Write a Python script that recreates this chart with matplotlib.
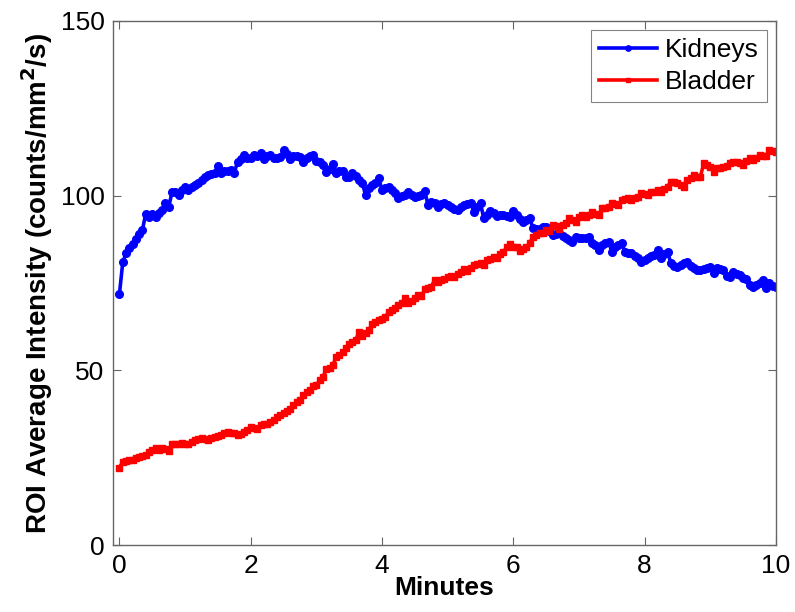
import numpy as np
import matplotlib
matplotlib.use("Agg")
import matplotlib.pyplot as plt

# time axis in minutes (one frame every 3 s)
minutes = np.arange(201) * 0.05

# ROI average intensity (counts/mm^2/s)
kidneys = [
    71.9, 80.9, 83.5, 84.9, 86.2, 87.5, 89.0, 90.2, 94.8, 93.8,
    94.8, 94.0, 95.0, 95.9, 97.8, 96.8, 100.9, 101.1, 100.2, 101.5,
    102.6, 101.6, 102.4, 103.0, 103.7, 104.5, 105.3, 105.9, 106.2, 106.4,
    108.5, 106.6, 107.0, 107.1, 107.4, 106.6, 109.7, 110.5, 111.6, 110.7,
    110.8, 111.6, 111.2, 112.3, 110.4, 111.2, 111.6, 110.8, 110.9, 111.0,
    113.1, 112.0, 110.4, 111.4, 111.4, 111.0, 109.7, 110.7, 111.2, 111.6,
    110.0, 109.5, 108.8, 106.9, 107.5, 109.1, 106.4, 107.0, 107.1, 105.3,
    105.4, 106.4, 105.5, 104.5, 103.5, 100.2, 102.1, 103.0, 103.5, 105.0,
    101.6, 102.1, 102.6, 101.5, 100.7, 99.2, 99.8, 100.2, 101.1, 100.2,
    99.7, 100.0, 100.2, 101.4, 97.3, 98.3, 97.8, 96.8, 97.5, 98.0,
    97.4, 96.8, 96.2, 95.9, 96.8, 97.3, 97.6, 97.8, 95.4, 96.8,
    97.8, 93.5, 94.6, 95.6, 94.9, 94.2, 94.4, 94.5, 94.1, 93.8,
    95.6, 94.5, 93.2, 92.6, 92.9, 93.5, 90.7, 90.6, 90.4, 90.9,
    91.1, 89.8, 88.7, 89.0, 89.4, 88.5, 87.8, 87.3, 86.8, 88.2,
    88.0, 87.8, 88.0, 88.2, 86.5, 85.9, 84.4, 85.9, 86.5, 86.8,
    84.0, 85.4, 86.0, 86.4, 84.0, 83.7, 83.5, 82.8, 82.1, 81.1,
    81.6, 82.1, 82.6, 83.0, 84.4, 82.1, 83.2, 84.0, 80.6, 80.0,
    79.7, 80.2, 80.6, 81.1, 80.0, 79.2, 78.7, 78.8, 78.9, 79.3,
    79.7, 77.8, 79.4, 79.0, 78.7, 77.0, 76.6, 78.2, 77.5, 77.3,
    76.5, 76.1, 74.5, 73.9, 74.4, 75.0, 75.8, 73.5, 75.0, 74.2,
    73.8,
]

bladder = [
    22.2, 23.9, 24.2, 24.5, 24.4, 24.9, 25.3, 25.6, 25.8, 26.7,
    27.2, 27.7, 27.2, 27.7, 27.5, 27.0, 29.1, 29.0, 29.1, 29.2,
    29.1, 28.9, 29.5, 30.1, 30.5, 30.8, 30.3, 30.1, 30.6, 31.0,
    31.3, 31.5, 32.0, 32.4, 32.2, 32.1, 31.5, 31.9, 32.4, 33.0,
    33.9, 33.6, 33.4, 34.4, 34.6, 34.8, 35.3, 35.8, 36.7, 37.2,
    37.7, 38.5, 39.1, 40.1, 41.0, 41.5, 42.9, 43.8, 44.4, 45.5,
    45.8, 47.2, 48.2, 50.3, 50.8, 51.5, 53.9, 54.3, 55.2, 56.3,
    57.7, 58.2, 58.7, 61.1, 59.9, 60.7, 61.5, 63.3, 63.8, 64.4,
    64.8, 65.2, 66.8, 67.2, 68.0, 68.8, 69.4, 70.6, 69.4, 70.0,
    70.8, 71.6, 71.3, 73.2, 73.5, 73.9, 75.9, 75.4, 75.8, 76.3,
    76.8, 77.0, 76.8, 77.6, 78.2, 78.9, 78.5, 79.2, 80.2, 80.4,
    80.6, 80.2, 81.6, 82.0, 82.5, 82.1, 83.2, 84.0, 85.2, 86.2,
    85.2, 85.4, 84.2, 84.8, 85.4, 86.4, 88.3, 88.6, 89.2, 89.2,
    90.2, 90.0, 91.6, 91.2, 90.6, 91.5, 92.1, 93.5, 93.0, 92.6,
    93.8, 94.5, 94.0, 94.5, 95.4, 94.8, 94.5, 96.4, 96.6, 96.8,
    98.0, 97.6, 97.3, 98.8, 99.0, 99.2, 98.8, 99.3, 99.7, 100.7,
    100.5, 100.2, 101.1, 101.1, 101.6, 101.1, 101.8, 102.6, 104.0, 104.0,
    103.5, 103.0, 102.6, 104.5, 105.0, 105.9, 105.4, 105.4, 109.3, 108.8,
    108.3, 106.9, 107.8, 108.0, 108.3, 108.5, 109.3, 109.5, 109.7, 109.2,
    108.8, 110.0, 110.7, 110.2, 110.8, 111.6, 111.4, 111.2, 113.1, 112.8,
    112.6,
]

plt.rcParams['font.family'] = ['Liberation Sans', 'DejaVu Sans']

fig = plt.figure(figsize=(7.95, 6.12), dpi=100)
ax = fig.add_axes([0.142, 0.109, 0.834, 0.857])

ax.plot(minutes, kidneys, '-', color='#0000ff', linewidth=2.6,
        marker='.', markersize=11, label='Kidneys')
ax.plot(minutes, bladder, '-', color='#ff0000', linewidth=2.6,
        marker='s', markersize=4.2, label='Bladder')

ax.set_xlim(-0.1, 10)
ax.set_ylim(0, 150)
ax.set_xticks([0, 2, 4, 6, 8, 10])
ax.set_yticks([0, 50, 100, 150])

ax.tick_params(direction='in', top=True, right=True, length=6,
               width=0.8, color='#666666', labelsize=19, pad=6)
for s in ax.spines.values():
    s.set_color('#666666')
    s.set_linewidth(1.0)

ax.set_xlabel('Minutes', fontsize=19, fontweight='bold', labelpad=-1)
ax.set_ylabel('ROI Average Intensity (counts/mm$^\\mathbf{2}$/s)',
              fontsize=20, fontweight='bold', labelpad=4)

leg = ax.legend(loc='upper right', fontsize=19, frameon=True, fancybox=False,
                handlelength=2.2, borderaxespad=0.35, borderpad=0.3,
                labelspacing=0.3, handletextpad=0.3, markerscale=0.7)
leg.get_frame().set_edgecolor('#666666')
leg.get_frame().set_linewidth(0.8)

fig.savefig('out.png', dpi=100)
